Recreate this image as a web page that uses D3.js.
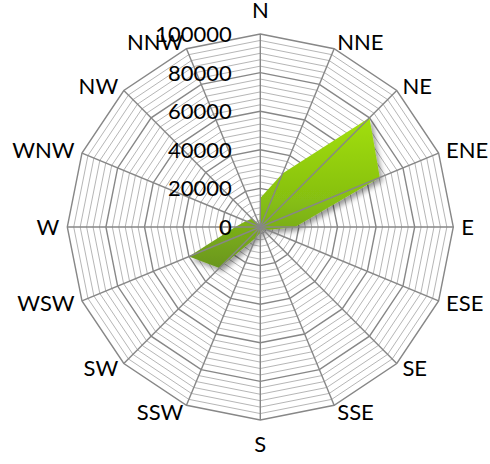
<!DOCTYPE html>
<html>
<head>
<meta charset="utf-8">
<script src="https://cdn.jsdelivr.net/npm/d3@7"></script>
<style>
  html, body { margin: 0; padding: 0; background: #fff; }
  svg { display: block; }
  text { font-family: Lato, "Open Sans", sans-serif; fill: #000; }
</style>
</head>
<body>
<svg id="chart" width="490" height="464"></svg>
<script>
// Wind directions, clockwise from north
const directions = ["N", "NNE", "NE", "ENE", "E", "ESE", "SE", "SSE",
                    "S", "SSW", "SW", "WSW", "W", "WNW", "NW", "NNW"];
// Total per direction
const values = [15000, 30000, 80000, 67000, 18000, 4000, 2000, 2000,
                3000, 6000, 30000, 40000, 13000, 8000, 6000, 1000];
// Radial axis
const axisMax = 100000;
const majorTicks = [0, 20000, 40000, 60000, 80000, 100000];
const minorPerMajor = 6;

const svg = d3.select("#chart");
const cx = 260.3, cy = 227, R = 193;
const g = svg.append("g").attr("transform", `translate(${cx},${cy})`);

const r = d3.scaleLinear().domain([0, axisMax]).range([0, R]);
const angle = d3.scalePoint().domain(directions).range([0, 2 * Math.PI * (directions.length - 1) / directions.length]);

const ring = v => d3.lineRadial()
  .angle(d => angle(d))
  .radius(() => r(v))
  .curve(d3.curveLinearClosed)(directions);

// Minor rings
const minorStep = (majorTicks[1] - majorTicks[0]) / minorPerMajor;
const minorVals = d3.range(minorStep, axisMax, minorStep)
  .filter(v => Math.abs(v / majorTicks[1] - Math.round(v / majorTicks[1])) > 1e-6);
g.append("g").selectAll("path").data(minorVals).join("path")
  .attr("d", d => ring(d))
  .attr("fill", "none").attr("stroke", "#b6b6b6").attr("stroke-width", 1);

// Major rings
g.append("g").selectAll("path").data(majorTicks.filter(v => v > 0)).join("path")
  .attr("d", d => ring(d))
  .attr("fill", "none").attr("stroke", "#878787").attr("stroke-width", 1.4);

// Filled series
const defs = svg.append("defs");
const grad = defs.append("linearGradient").attr("id", "fillGrad")
  .attr("x1", 0).attr("y1", 0).attr("x2", 0).attr("y2", 1);
grad.append("stop").attr("offset", "0%").attr("stop-color", "#a2df0b");
grad.append("stop").attr("offset", "55%").attr("stop-color", "#86bf12");
grad.append("stop").attr("offset", "100%").attr("stop-color", "#6a9620");
const shadow = defs.append("filter").attr("id", "shadow")
  .attr("x", "-20%").attr("y", "-20%").attr("width", "150%").attr("height", "150%");
shadow.append("feDropShadow").attr("dx", 3).attr("dy", 3.5)
  .attr("stdDeviation", 2.5).attr("flood-color", "#000").attr("flood-opacity", 0.4);

const area = d3.lineRadial()
  .angle((d, i) => angle(directions[i]))
  .radius(d => r(d))
  .curve(d3.curveLinearClosed);
g.append("path")
  .attr("d", area(values))
  .attr("fill", "url(#fillGrad)")
  .attr("filter", "url(#shadow)");

// Spokes
g.append("g").selectAll("line").data(directions).join("line")
  .attr("x1", 0).attr("y1", 0)
  .attr("x2", d => R * Math.sin(angle(d)))
  .attr("y2", d => -R * Math.cos(angle(d)))
  .attr("stroke", "#878787").attr("stroke-width", 1.4);

// Radial tick labels
g.append("g").selectAll("text").data(majorTicks).join("text")
  .attr("x", -28.5)
  .attr("y", d => -r(d))
  .attr("dy", "0.36em")
  .attr("text-anchor", "end")
  .attr("font-size", 22)
  .text(d => d);

// Direction labels
g.append("g").selectAll("text").data(directions).join("text")
  .each(function (d) {
    const a = angle(d), s = Math.sin(a), c = Math.cos(a);
    const x = R * s, y = -R * c;
    const onAxis = Math.abs(s) < 0.01;
    const t = d3.select(this);
    t.attr("x", onAxis ? x : x + s * 8)
     .attr("y", onAxis ? y - c * 24 : y - c * 7)
     .attr("dy", "0.36em")
     .attr("text-anchor", onAxis ? "middle" : (s > 0 ? "start" : "end"));
  })
  .attr("font-size", 22)
  .text(d => d);
</script>
</body>
</html>
